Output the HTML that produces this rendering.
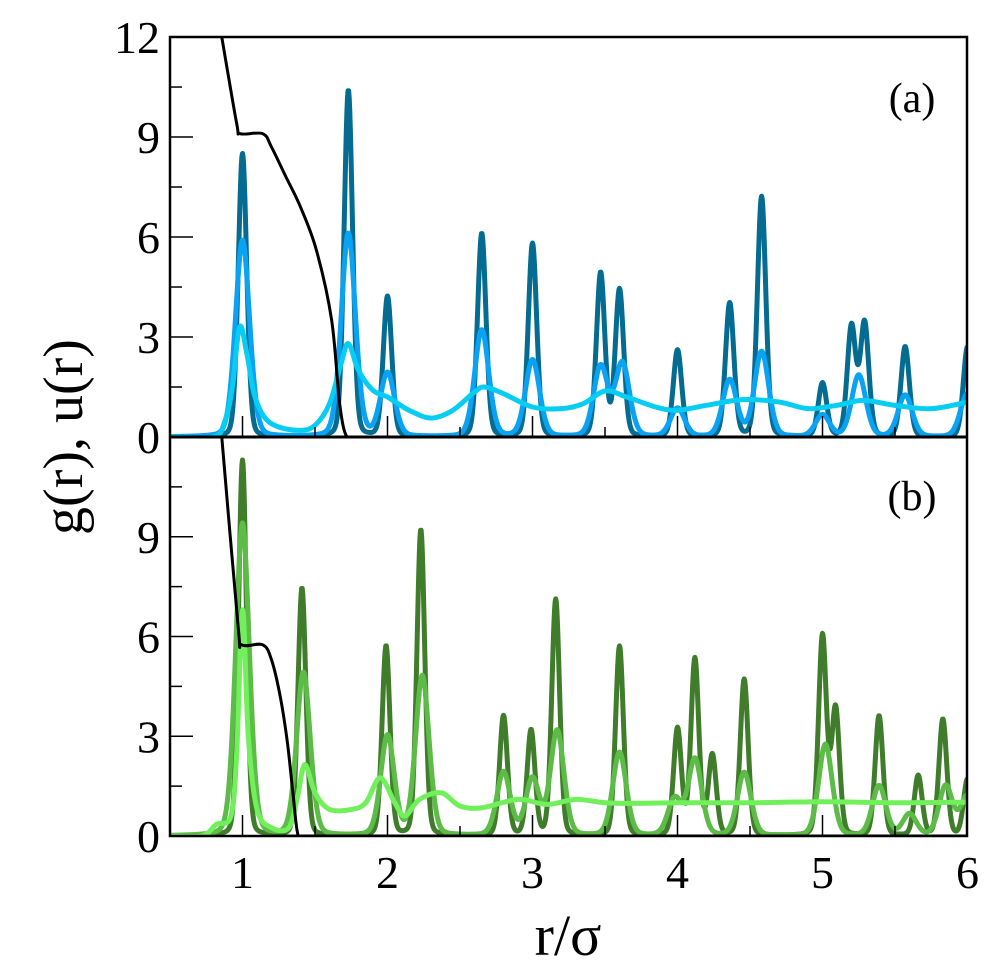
<!DOCTYPE html>
<html><head><meta charset="utf-8"><style>
body{margin:0;background:#fff;}
svg{display:block;font-family:"Liberation Serif",serif;}
</style></head><body>
<svg id="chart" width="1004" height="969" viewBox="0 0 1004 969" xmlns="http://www.w3.org/2000/svg">
<defs>
<clipPath id="clipA"><rect x="170" y="37" width="797" height="400"/></clipPath>
<clipPath id="clipB"><rect x="170" y="437" width="797" height="399"/></clipPath>
</defs>
<g id="panelA" clip-path="url(#clipA)"></g>
<g id="panelB" clip-path="url(#clipB)"></g>
<g id="axes"></g>
<text x="912" y="112" font-size="42" text-anchor="middle">(a)</text>
<text x="912" y="510" font-size="42" text-anchor="middle">(b)</text>
<text x="568" y="955" font-size="58" text-anchor="middle">r/σ</text>
<text transform="translate(82,437) rotate(-90)" font-size="56" text-anchor="middle">g(r), u(r)</text>
</svg>
<script>
// ---- data ----
const xTicks = [1,2,3,4,5,6];
const yTicksA = [0,3,6,9,12];
const yTicksB = [0,3,6,9];
const aDarkPos = [1.0,1.73,2.0,2.65,3.0,3.47,3.6,4.0,4.36,4.58,5.0,5.2,5.29,5.57,6.0];
const aDarkH   = [8.5,10.4,4.2,6.1,5.8,4.9,4.4,2.6,4.0,7.2,1.6,3.3,3.4,2.7,2.7];
const aMedPos = [1.0,1.73,2.0,2.65,3.0,3.47,3.62,4.0,4.36,4.58,5.0,5.25,5.57,6.0];
const aMedH   = [5.9,6.1,1.9,3.2,2.3,2.1,2.2,0.85,1.7,2.55,0.65,1.85,1.25,1.3];
const aLightR = [0.5,0.8,0.88,0.93,0.98,1.03,1.08,1.15,1.25,1.4,1.5,1.6,1.68,1.73,1.8,1.9,2.0,2.15,2.3,2.45,2.6,2.67,2.8,3.0,3.2,3.35,3.5,3.65,3.85,4.0,4.2,4.45,4.7,4.9,5.1,5.28,5.5,5.75,6.0];
const aLightG = [0,0,0.5,1.5,3.3,2.5,1.3,0.6,0.3,0.2,0.35,1.0,2.2,2.8,2.0,1.4,1.2,0.8,0.57,0.8,1.35,1.5,1.3,0.9,0.85,1.0,1.38,1.2,0.9,0.8,0.95,1.12,1.05,0.85,0.95,1.1,0.95,0.85,1.05];
const aPotR = [0.857,0.96,0.985,1.14,1.2,1.3,1.4,1.51,1.615,1.67,1.72,1.8,6.1];
const aPotU = [12,9.4,9.1,9.1,8.7,7.8,6.9,5.6,3.5,1.0,0,0,0];
const bDarkPos = [1.0,1.41,1.99,2.23,2.8,2.99,3.16,3.6,4.0,4.12,4.24,4.46,5.0,5.09,5.39,5.66,5.83,6.0];
const bDarkH   = [11.3,7.45,5.7,9.2,3.6,3.15,7.1,5.7,3.2,5.3,2.4,4.7,6.0,3.8,3.6,1.8,3.5,1.7];
const bMedPos = [1.0,1.42,2.0,2.24,2.8,3.0,3.17,3.6,3.98,4.12,4.46,5.02,5.39,5.6,5.85,6.0];
const bMedH   = [9.4,4.9,3.0,4.8,1.9,1.7,3.15,2.5,1.1,2.3,1.9,2.75,1.5,0.65,1.5,1.2];
const bLightR = [0.5,0.72,0.82,0.92,0.96,1.0,1.04,1.1,1.2,1.32,1.38,1.43,1.5,1.6,1.75,1.85,1.95,2.05,2.12,2.22,2.37,2.5,2.65,2.9,3.1,3.3,3.5,3.7,4.0,4.5,5.0,5.5,6.0];
const bLightG = [0,0,0.35,0.6,2.5,6.8,3.0,0.8,0.25,0.25,1.2,2.15,1.3,0.8,0.8,1.0,1.75,1.0,0.6,1.1,1.3,0.9,0.85,1.1,0.95,1.1,1.0,0.98,1.0,1.0,1.03,1.0,1.02];
const bPotR = [0.857,0.97,0.995,1.14,1.2,1.26,1.31,1.35,1.385,1.45,6.1];
const bPotU = [12,6.3,5.75,5.75,5.3,4.2,2.8,1.2,0,0,0];

// ---- axes functions ----
const X = r => 170 + (r - 0.5) * 145;
const YA = g => 437 - g * 33.33;
const YB = g => 836 - g * 33.25;
const NS = 'http://www.w3.org/2000/svg';

function peaksPath(pos, h, sig, Y) {
  let d = '';
  for (let r = 0.5; r <= 6.05; r += 0.004) {
    let g = 0;
    for (let i = 0; i < pos.length; i++) {
      const u = (r - pos[i]) / sig;
      g += h[i] * (0.8 * Math.exp(-0.5 * u * u) + 0.2 / (1 + u * u));
    }
    d += (d ? 'L' : 'M') + X(r).toFixed(2) + ',' + Y(g).toFixed(2);
  }
  return d;
}
function smoothPath(rs, gs, Y) {
  const p = rs.map((r, i) => [X(r), Y(gs[i])]);
  let d = 'M' + p[0][0] + ',' + p[0][1];
  for (let i = 0; i < p.length - 1; i++) {
    const p0 = p[Math.max(0, i - 1)], p1 = p[i], p2 = p[i + 1], p3 = p[Math.min(p.length - 1, i + 2)];
    const c1 = [p1[0] + (p2[0] - p0[0]) / 6, p1[1] + (p2[1] - p0[1]) / 6];
    const c2 = [p2[0] - (p3[0] - p1[0]) / 6, p2[1] - (p3[1] - p1[1]) / 6];
    d += 'C' + c1.map(v=>v.toFixed(2)).join(',') + ' ' + c2.map(v=>v.toFixed(2)).join(',') + ' ' + p2.map(v=>v.toFixed(2)).join(',');
  }
  return d;
}
function addPath(parent, d, color, w, name) {
  const el = document.createElementNS(NS, 'path');
  el.setAttribute('d', d);
  el.setAttribute('fill', 'none');
  el.setAttribute('stroke', color);
  el.setAttribute('stroke-width', w);
  el.setAttribute('stroke-linejoin', 'round');
  
  
  parent.appendChild(el);
}
const pA = document.getElementById('panelA');
const pB = document.getElementById('panelB');
addPath(pA, peaksPath(aDarkPos, aDarkH, 0.03, YA), '#046b91', 5, 'series-a-dark');
addPath(pA, peaksPath(aMedPos, aMedH, 0.05, YA), '#0aa2f2', 5, 'series-a-medium');
addPath(pA, smoothPath(aLightR, aLightG, YA), '#08cdf2', 5, 'series-a-light');
addPath(pA, smoothPath(aPotR, aPotU, YA), '#000', 3, 'potential-a');
addPath(pB, peaksPath(bDarkPos, bDarkH, 0.028, YB), '#3f7d2b', 5, 'series-b-dark');
addPath(pB, peaksPath(bMedPos, bMedH, 0.048, YB), '#5dbb47', 5, 'series-b-medium');
addPath(pB, smoothPath(bLightR, bLightG, YB), '#72f05c', 5, 'series-b-light');
addPath(pB, smoothPath(bPotR, bPotU, YB), '#000', 3, 'potential-b');

// ---- axes ----
const ax = document.getElementById('axes');
function line(x1,y1,x2,y2,w,name){
  const l = document.createElementNS(NS,'line');
  l.setAttribute('x1',x1);l.setAttribute('y1',y1);l.setAttribute('x2',x2);l.setAttribute('y2',y2);
  l.setAttribute('stroke','#000');l.setAttribute('stroke-width',w);
  
  
  ax.appendChild(l);
}
function text(x,y,s,anchor,size,name){
  const t = document.createElementNS(NS,'text');
  t.setAttribute('x',x);t.setAttribute('y',y);t.setAttribute('text-anchor',anchor);t.setAttribute('font-size',size);
  t.textContent = s;
  
  
  ax.appendChild(t);
}
const frame = document.createElementNS(NS,'rect');
frame.setAttribute('x',170);frame.setAttribute('y',37);frame.setAttribute('width',797);frame.setAttribute('height',799);
frame.setAttribute('fill','none');frame.setAttribute('stroke','#000');frame.setAttribute('stroke-width',2.5);


ax.appendChild(frame);
line(170,437,967,437,3,'panel-divider');
[[YA,437],[YB,836]].forEach(([Y,base])=>{
  for (let r=1; r<6; r+=0.5){
    const major = Math.abs(r-Math.round(r))<1e-6;
    line(X(r),base,X(r),base-(major?21:10),1.5,'x-tick');
  }
  for (let g=1.5; g<12; g+=1.5){
    const major = g%3===0;
    line(170,Y(g),170+(major?23:12),Y(g),1.5,'y-tick');
  }
});
yTicksA.forEach(g=>text(160,YA(g)+16,String(g),'end',46,'y-tick-label-a'));
yTicksB.forEach(g=>text(160,YB(g)+16,String(g),'end',46,'y-tick-label-b'));
xTicks.forEach(r=>text(X(r),888,String(r),'middle',46,'x-tick-label'));
</script>
</body></html>
